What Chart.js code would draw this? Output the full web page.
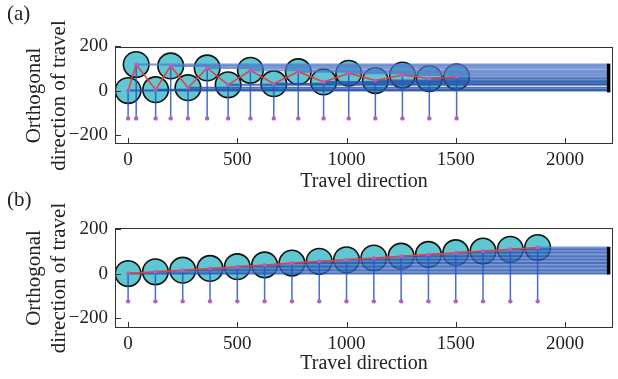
<!DOCTYPE html>
<html>
<head>
<meta charset="utf-8">
<script src="https://cdn.jsdelivr.net/npm/chart.js@4/dist/chart.umd.min.js"></script>
<style>
  html, body { margin: 0; padding: 0; background: #fff; overflow: hidden; }
  #wrap { position: relative; width: 618px; height: 379px; }
  canvas { display: block; position: absolute; left: 0; }
</style>
</head>
<body>
<div id="wrap">
  <canvas id="chartA" width="618" height="190" style="top:0"></canvas>
  <canvas id="chartB" width="618" height="189" style="top:190px"></canvas>
</div>
<script>
// panel (a): zig-zag path
const xA = [0, 37, 126, 195, 274, 362, 458, 560, 667, 779, 895, 1010, 1132, 1256, 1379, 1504];
const yA = [0, 117, 4, 111, 13, 102, 26, 91, 31, 85, 39, 78, 45, 70, 54, 62];
// panel (b): steady drift
const xB = [0, 125, 250, 375, 500, 625, 750, 875, 1000, 1125, 1250, 1375, 1500, 1625, 1750, 1875];
const yB = [0, 8, 15, 23, 31, 39, 47, 55, 62, 70, 78, 86, 94, 101, 109, 117];

const pinY = -125;          // purple markers
const endX = 2200;          // trails stop here
const endBarA = [-8, 121];
const endBarB = [-4, 120];

const xTicks = [0, 500, 1000, 1500, 2000];
const yTicks = [-200, 0, 200];

const FONT = 'Liberation Serif, Times New Roman, serif';
const INK = '#222';

const frame = {
  id: 'frame',
  afterDraw(chart) {
    const { ctx, chartArea: a, scales } = chart;
    ctx.save();
    ctx.strokeStyle = '#333';
    ctx.lineWidth = 1;
    ctx.strokeRect(a.left + 0.5, a.top + 0.5, a.right - a.left - 1, a.bottom - a.top - 1);
    ctx.beginPath();
    scales.x.ticks.forEach(t => {
      const px = Math.round(scales.x.getPixelForValue(t.value)) + 0.5;
      ctx.moveTo(px, a.bottom);
      ctx.lineTo(px, a.bottom - 6);
    });
    scales.y.ticks.forEach(t => {
      const py = Math.round(scales.y.getPixelForValue(t.value)) + 0.5;
      ctx.moveTo(a.left, py);
      ctx.lineTo(a.left + 6, py);
    });
    ctx.stroke();
    const o = chart.options.plugins.frame;
    ctx.fillStyle = INK;
    ctx.font = '21px ' + FONT;
    ctx.textBaseline = 'middle';
    ctx.fillText(o.label, 7, o.labelY);
    ctx.restore();
  }
};

function makeChart(id, xs, ys, endBar, label, opts) {
  const pts = xs.map((x, i) => ({ x, y: ys[i] }));
  const datasets = [];

  datasets.push({
    type: 'line', data: [{ x: endX, y: endBar[0] }, { x: endX, y: endBar[1] }],
    borderColor: '#000', borderWidth: 3.5, pointRadius: 0, order: 0
  });
  datasets.push({
    type: 'scatter', data: xs.map(x => ({ x, y: pinY })),
    pointRadius: 2.2, backgroundColor: '#b45ec8', borderWidth: 0, order: 1
  });
  datasets.push({
    type: 'line', data: pts,
    borderColor: '#ee3a3a', borderWidth: 1.5,
    pointRadius: 2, pointBackgroundColor: '#b45ec8', pointBorderWidth: 0, order: 2
  });
  pts.forEach(p => {
    datasets.push({
      type: 'line', data: [p, { x: p.x, y: pinY }],
      borderColor: 'rgba(40,85,190,0.85)', borderWidth: 1.5, pointRadius: 0, order: 3
    });
  });
  pts.forEach((p, i) => {
    datasets.push({
      type: 'line', data: [p, { x: endX, y: p.y }],
      borderColor: i % 2 ? 'rgba(80,120,200,0.75)' : 'rgba(35,80,170,0.8)',
      borderWidth: 2, pointRadius: 0, order: 4
    });
  });
  datasets.push({
    type: 'scatter', data: pts,
    pointRadius: 12.8, backgroundColor: '#5ec7d1', borderColor: '#111', borderWidth: 1.6, order: 5
  });

  return new Chart(document.getElementById(id), {
    data: { datasets },
    options: {
      responsive: false,
      animation: false,
      events: [],
      layout: { autoPadding: false, padding: { top: opts.top, right: 5, left: 0, bottom: 0 } },
      elements: { line: { tension: 0 } },
      scales: {
        x: {
          type: 'linear', min: -60, max: 2220,
          afterBuildTicks: s => { s.ticks = xTicks.map(v => ({ value: v })); },
          afterFit: s => { s.height = opts.xh; s.paddingLeft = 0; s.paddingRight = 0; },
          grid: { display: false, drawTicks: false },
          border: { display: false },
          ticks: { color: INK, padding: 5, font: { family: FONT, size: 19 }, callback: v => String(v) },
          title: {
            display: true, text: 'Travel direction', color: INK,
            font: { family: FONT, size: 20, lineHeight: 0.8 },
            padding: { top: 0, bottom: opts.tb }
          }
        },
        y: {
          type: 'linear', min: opts.ymin, max: opts.ymax,
          afterBuildTicks: s => { s.ticks = yTicks.map(v => ({ value: v })); },
          afterFit: s => { s.width = 115; s.paddingTop = 0; s.paddingBottom = 0; },
          grid: { display: false, drawTicks: false },
          border: { display: false },
          ticks: {
            color: INK, padding: 7, font: { family: FONT, size: 19 },
            callback: v => String(v).replace('-', '\u2212')
          },
          title: {
            display: true, text: ['Orthogonal', 'direction of travel'], color: INK,
            font: { family: FONT, size: 21, lineHeight: 1.2 },
            padding: { top: 22, bottom: 0 }
          }
        }
      },
      plugins: {
        legend: { display: false },
        tooltip: { enabled: false },
        frame: { label, labelY: opts.labelY }
      }
    },
    plugins: [frame]
  });
}

makeChart('chartA', xA, yA, endBarA, '(a)', { top: 47, xh: 46, tb: 0, labelY: 14, ymin: -240, ymax: 196 });
makeChart('chartB', xB, yB, endBarB, '(b)', { top: 38, xh: 51, tb: 7, labelY: 10, ymin: -245, ymax: 205 });
</script>
</body>
</html>
